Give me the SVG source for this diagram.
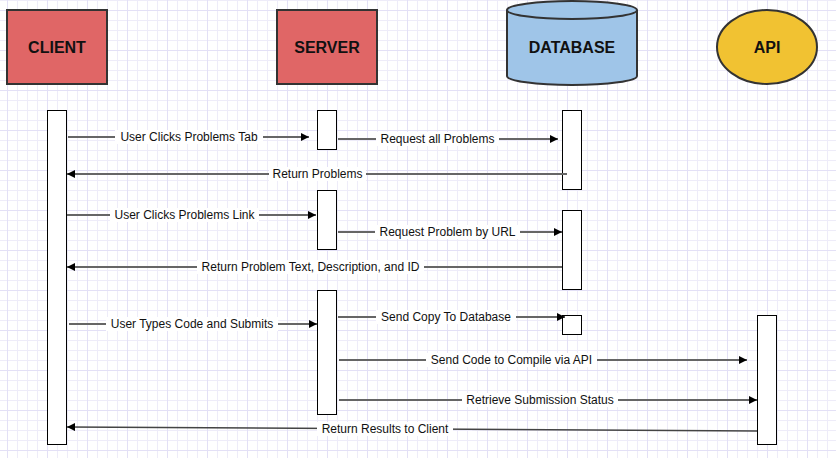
<svg xmlns="http://www.w3.org/2000/svg" width="836" height="458" viewBox="0 0 836 458">
<defs>
<pattern id="minor" x="7" y="0" width="10" height="10" patternUnits="userSpaceOnUse">
<path d="M0.5,0 V10 M0,0.5 H10" fill="none" stroke="#eeecf9" stroke-width="1"/>
</pattern>
<pattern id="major" x="7" y="10" width="40" height="40" patternUnits="userSpaceOnUse">
<path d="M0.5,0 V40 M0,0.5 H40" fill="none" stroke="#e3e0f6" stroke-width="1"/>
</pattern>
<marker id="arr" viewBox="0 0 10 10" refX="10" refY="5" markerWidth="8" markerHeight="8" markerUnits="userSpaceOnUse" orient="auto">
<path d="M0,0 L10,5 L0,10 Z" fill="#000"/>
</marker>
</defs>
<style>
.node{stroke:#333;stroke-width:2}
.title{font-family:"Liberation Sans",Arial,sans-serif;font-size:16px;font-weight:bold;fill:#111;text-anchor:middle}
.act{fill:#fff;stroke:#000;stroke-width:1}
.msg{stroke:#666;stroke-width:2;fill:none}
.arrow{marker-end:url(#arr)}
.lbg{fill:#fff}
.lbl{font-family:"Liberation Sans",Arial,sans-serif;font-size:12px;fill:#111;text-anchor:middle}
</style>
<rect width="836" height="458" fill="#fff"/>
<rect width="836" height="458" fill="url(#minor)"/>
<rect width="836" height="458" fill="url(#major)"/>

<g id="client">
<rect class="node" x="7" y="10" width="100" height="74" fill="#e06666"/>
<text class="title" x="57" y="53">CLIENT</text>
</g>
<g id="server">
<rect class="node" x="277" y="10" width="100" height="74" fill="#e06666"/>
<text class="title" x="327" y="53">SERVER</text>
</g>
<g id="database">
<path class="node" d="M507,10 A65,9 0 0,1 637,10 L637,76 A65,9 0 0,1 507,76 Z" fill="#9fc5e8"/>
<path class="node" d="M507,10 A65,9 0 0,0 637,10" fill="none"/>
<text class="title" x="572" y="53">DATABASE</text>
</g>
<g id="api">
<ellipse class="node" cx="767" cy="47" rx="50" ry="37" fill="#f1c232"/>
<text class="title" x="767" y="53">API</text>
</g>

<g id="client-activation">
<rect class="act" x="47.5" y="110.5" width="19" height="334"/>
</g>
<g id="server-activations">
<rect class="act" x="317.5" y="110.5" width="19" height="39"/>
<rect class="act" x="317.5" y="190.5" width="19" height="59"/>
<rect class="act" x="317.5" y="290.5" width="19" height="124"/>
</g>
<g id="database-activations">
<rect class="act" x="562.5" y="110.5" width="19" height="79"/>
<rect class="act" x="562.5" y="210.5" width="19" height="79"/>
<rect class="act" x="562.5" y="315.5" width="19" height="19"/>
</g>
<g id="api-activation">
<rect class="act" x="757.5" y="315.5" width="19" height="129"/>
</g>

<g id="connectors">
<line class="msg arrow" x1="68" y1="137" x2="309" y2="137"/>
<rect class="lbg" x="115" y="130" width="148" height="14"/>
<text class="lbl" x="189" y="141">User Clicks Problems Tab</text>

<line class="msg arrow" x1="338" y1="139" x2="558" y2="139"/>
<rect class="lbg" x="376" y="132" width="123" height="14"/>
<text class="lbl" x="437.5" y="143">Request all Problems</text>

<line class="msg arrow" x1="567" y1="174" x2="67" y2="174"/>
<rect class="lbg" x="269" y="167" width="97" height="14"/>
<text class="lbl" x="317.5" y="178">Return Problems</text>

<line class="msg arrow" x1="67" y1="215" x2="316" y2="215"/>
<rect class="lbg" x="110" y="208" width="149" height="14"/>
<text class="lbl" x="184.5" y="219">User Clicks Problems Link</text>

<line class="msg arrow" x1="338" y1="232" x2="562" y2="232"/>
<rect class="lbg" x="375" y="225" width="145" height="14"/>
<text class="lbl" x="447.5" y="236">Request Problem by URL</text>

<line class="msg arrow" x1="562" y1="267" x2="67" y2="267"/>
<rect class="lbg" x="197" y="260" width="227" height="14"/>
<text class="lbl" x="310.5" y="271">Return Problem Text, Description, and ID</text>

<line class="msg arrow" x1="69" y1="324" x2="317" y2="324"/>
<rect class="lbg" x="106" y="317" width="172" height="14"/>
<text class="lbl" x="192" y="328">User Types Code and Submits</text>

<line class="msg arrow" x1="338" y1="317" x2="565" y2="317"/>
<rect class="lbg" x="376" y="310" width="140" height="14"/>
<text class="lbl" x="446" y="321">Send Copy To Database</text>

<line class="msg arrow" x1="339" y1="360" x2="747" y2="360"/>
<rect class="lbg" x="426" y="353" width="171" height="14"/>
<text class="lbl" x="511.5" y="364">Send Code to Compile via API</text>

<line class="msg arrow" x1="339" y1="400" x2="757" y2="400"/>
<rect class="lbg" x="462" y="393" width="156" height="14"/>
<text class="lbl" x="540" y="404">Retrieve Submission Status</text>

<line class="msg arrow" x1="757" y1="431" x2="67" y2="427" style="stroke:#444;stroke-width:1.5"/>
<rect class="lbg" x="317" y="422" width="136" height="14"/>
<text class="lbl" x="385" y="433">Return Results to Client</text>
</g>
</svg>
